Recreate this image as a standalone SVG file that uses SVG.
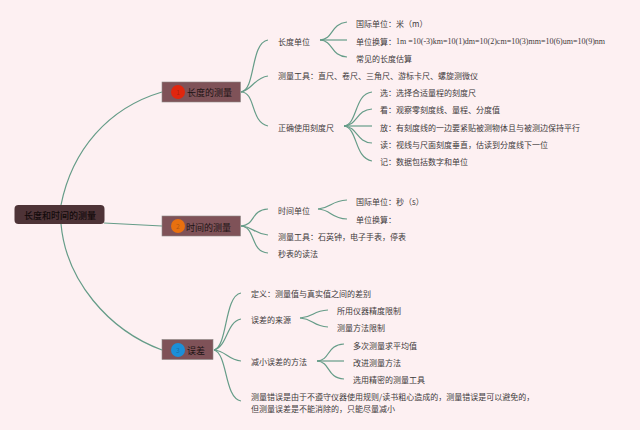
<svg xmlns="http://www.w3.org/2000/svg" width="640" height="430" viewBox="0 0 640 430">
<style>
text{font-family:"Noto Sans CJK SC","Noto Sans",sans-serif;fill:#3d3a3b;font-size:8px;dominant-baseline:central}
.c path{fill:none;stroke:#659c88;stroke-width:1.2}
.t rect{fill:#7f5258;stroke:#8c8a88;stroke-width:.6}
.t text{font-size:9px;fill:#1c1214}
.t text.n{font-size:7px;text-anchor:middle;fill-opacity:.3}
.lat{font-family:"Liberation Serif",serif}
</style>
<rect width="640" height="430" fill="#fdf0f2"/>
<g id="connectors" class="c">
<path d="M61 205C72 150 108 108 162 92"/>
<path d="M104 223L162 226"/>
<path d="M61 224C66 280 108 330 162 350"/>
<path d="M241 92C256 90 250 43 268 40"/>
<path d="M241 92C252 90 254 78 268 76"/>
<path d="M241 92C256 92 250 122 268 126"/>
<path d="M320 40C334 39 330 24 347 22"/>
<path d="M320 40L347 40"/>
<path d="M320 40C334 41 330 56 347 57"/>
<path d="M344 126C358 124 354 94 372 92"/>
<path d="M344 126C358 125 356 110 372 109"/>
<path d="M344 126L372 126"/>
<path d="M344 126C358 127 356 142 372 143"/>
<path d="M344 126C358 128 354 158 372 161"/>
<path d="M241 226C256 225 250 210 268 209"/>
<path d="M241 226C254 227 254 234 268 235"/>
<path d="M241 226C256 227 250 252 268 253"/>
<path d="M318 209C332 208 330 201 347 200"/>
<path d="M318 209C332 210 330 218 347 219"/>
<path d="M214 350C228 346 224 296 241 293"/>
<path d="M214 350C228 346 226 322 241 319"/>
<path d="M214 350C226 351 228 360 241 361"/>
<path d="M214 350C228 354 224 398 241 401"/>
<path d="M300 318C314 317 312 311 328 310"/>
<path d="M300 318C314 319 312 326 328 327"/>
<path d="M317 361C331 360 326 345 344 344"/>
<path d="M317 361L344 361"/>
<path d="M317 361C331 362 326 378 344 379"/>
</g>
<g id="root"><rect x="14.500" y="205" width="90" height="19" rx="4" fill="#4e3337"/><text x="24" y="215" style="font-size:9px;fill:#120a0b;font-weight:500">长度和时间的测量</text></g>
<g id="n1" class="t"><rect x="162" y="82" width="78.500" height="20"/><circle cx="178" cy="92" r="7" fill="#e0260e"/><text class="n" x="178" y="92">1</text><text x="187" y="92.500">长度的测量</text></g>
<g id="n2" class="t"><rect x="162" y="216" width="78.500" height="20"/><circle cx="178" cy="226" r="7" fill="#e8700f"/><text class="n" x="178" y="226">2</text><text x="186" y="227">时间的测量</text></g>
<g id="n3" class="t"><rect x="162" y="339.500" width="51" height="20"/><circle cx="178" cy="350" r="7" fill="#1b8fd8"/><text class="n" x="178" y="350">3</text><text x="187" y="350.500">误差</text></g>
<g id="a1"><text x="278" y="41">长度单位</text></g>
<g id="a11"><text x="356" y="23">国际单位：米（m）</text></g>
<g id="a12"><text x="356" y="41">单位换算：<tspan class="lat">1m =10(-3)km=10(1)dm=10(2)cm=10(3)mm=10(6)um=10(9)nm</tspan></text></g>
<g id="a13"><text x="356" y="58">常见的长度估算</text></g>
<g id="a2"><text x="278" y="75">测量工具：直尺、卷尺、三角尺、游标卡尺、螺旋测微仪</text></g>
<g id="a3"><text x="278" y="127">正确使用刻度尺</text></g>
<g id="a31"><text x="380" y="92">选：选择合适量程的刻度尺</text></g>
<g id="a32"><text x="380" y="109">看：观察零刻度线、量程、分度值</text></g>
<g id="a33"><text x="380" y="127">放：有刻度线的一边要紧贴被测物体且与被测边保持平行</text></g>
<g id="a34"><text x="380" y="144">读：视线与尺面刻度垂直，估读到分度线下一位</text></g>
<g id="a35"><text x="380" y="161">记：数据包括数字和单位</text></g>
<g id="b1"><text x="278" y="210">时间单位</text></g>
<g id="b11"><text x="356" y="201">国际单位：秒（s）</text></g>
<g id="b12"><text x="356" y="219">单位换算：</text></g>
<g id="b2"><text x="278" y="236">测量工具：石英钟，电子手表，停表</text></g>
<g id="b3"><text x="278" y="253">秒表的读法</text></g>
<g id="c1"><text x="251" y="293">定义：测量值与真实值之间的差别</text></g>
<g id="c2"><text x="251" y="319">误差的来源</text></g>
<g id="c21"><text x="337" y="310">所用仪器精度限制</text></g>
<g id="c22"><text x="337" y="327">测量方法限制</text></g>
<g id="c3"><text x="251" y="361">减小误差的方法</text></g>
<g id="c31"><text x="353" y="345">多次测量求平均值</text></g>
<g id="c32"><text x="353" y="362">改进测量方法</text></g>
<g id="c33"><text x="353" y="379">选用精密的测量工具</text></g>
<g id="c4"><text x="251" y="396">测量错误是由于不遵守仪器使用规则/读书粗心造成的，测量错误是可以避免的，</text><text x="251" y="408">但测量误差是不能消除的，只能尽量减小</text></g>
</svg>
